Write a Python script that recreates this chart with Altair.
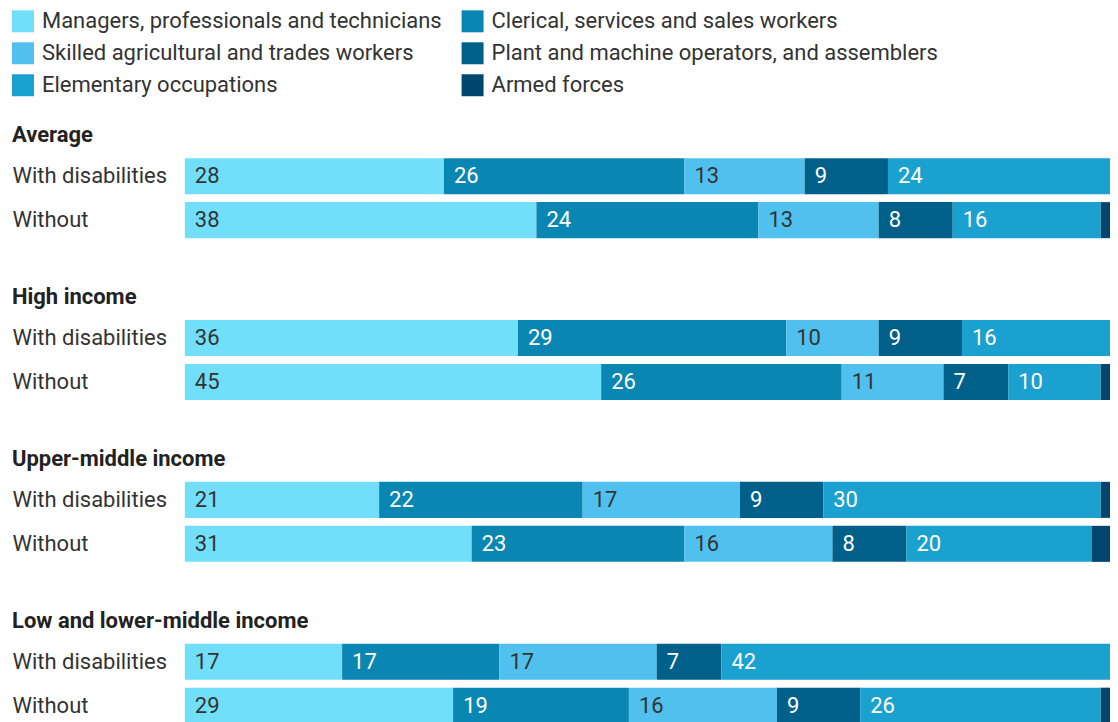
import altair as alt
import pandas as pd

groups = ["Average", "High income", "Upper-middle income", "Low and lower-middle income"]
statuses = ["With disabilities", "Without"]
occupations = [
    "Managers, professionals and technicians",
    "Clerical, services and sales workers",
    "Skilled agricultural and trades workers",
    "Plant and machine operators, and assemblers",
    "Elementary occupations",
    "Armed forces",
]
colors = ["#72dffa", "#0a86b2", "#50c1ee", "#01608a", "#1aa1cf", "#00466f"]
label_colors = ["#333333", "#ffffff", "#333333", "#ffffff", "#ffffff", "#ffffff"]

avg_with = [28, 26, 13, 9, 24, 0]
avg_without = [38, 24, 13, 8, 16, 1]
high_with = [36, 29, 10, 9, 16, 0]
high_without = [45, 26, 11, 7, 10, 1]
upper_with = [21, 22, 17, 9, 30, 1]
upper_without = [31, 23, 16, 8, 20, 2]
low_with = [17, 17, 17, 7, 42, 0]
low_without = [29, 19, 16, 9, 26, 1]

series = {
    ("Average", "With disabilities"): avg_with,
    ("Average", "Without"): avg_without,
    ("High income", "With disabilities"): high_with,
    ("High income", "Without"): high_without,
    ("Upper-middle income", "With disabilities"): upper_with,
    ("Upper-middle income", "Without"): upper_without,
    ("Low and lower-middle income", "With disabilities"): low_with,
    ("Low and lower-middle income", "Without"): low_without,
}

rows = []
for (g, s), vals in series.items():
    for i, (occ, v) in enumerate(zip(occupations, vals)):
        rows.append({"group": g, "status": s, "occupation": occ, "order": i,
                     "value": v, "tcolor": label_colors[i]})
df = pd.DataFrame(rows)

FONT = "Roboto"
FS = 22


def panel(g):
    base = alt.Chart(df).transform_filter(alt.datum.group == g).transform_stack(
        stack="value", groupby=["status"], as_=["x0", "x1"],
        sort=[alt.SortField("order", order="ascending")],
    )
    y = alt.Y("status:N", sort=statuses, title=None,
              scale=alt.Scale(paddingInner=0.18, paddingOuter=0.09))
    bars = base.mark_bar().encode(
        y=y,
        x=alt.X("x0:Q", scale=alt.Scale(domain=[0, 100], nice=False, zero=True), axis=None),
        x2="x1:Q",
        color=alt.Color("occupation:N", scale=alt.Scale(domain=occupations, range=colors),
                        title=None,
                        legend=alt.Legend(orient="none", legendX=-173, legendY=-144)),
    )
    text = base.transform_filter(alt.datum.value >= 3).mark_text(
        align="left", baseline="middle", dx=10, fontSize=FS, font=FONT
    ).encode(
        y=y,
        x=alt.X("x0:Q"),
        text=alt.Text("value:Q", format=".0f"),
        color=alt.Color("tcolor:N", scale=None),
    )
    return alt.layer(bars, text).properties(
        width=926, height=88,
        title=alt.TitleParams(g, anchor="start", frame="bounds", fontSize=FS,
                              fontWeight="bold", font=FONT, color="#222222", offset=7),
    )


chart = alt.vconcat(*[panel(g) for g in groups], spacing=44).properties(
    padding={"left": 4, "top": 2, "right": 0, "bottom": 0}
).configure_view(stroke=None).configure_axisY(
    domain=False, ticks=False, grid=False, labelAlign="left", labelPadding=173,
    labelFontSize=FS, labelFont=FONT, labelColor="#333333",
).configure_legend(
    direction="horizontal", columns=2, gridAlign="none",
    symbolType="square", symbolSize=484, symbolStrokeWidth=0, symbolOpacity=1,
    labelFontSize=FS, labelFont=FONT, labelColor="#333333", labelLimit=700,
    labelOffset=8, columnPadding=19, rowPadding=10,
)

chart.save("out.html", embed_options={"renderer": "svg", "actions": False})
